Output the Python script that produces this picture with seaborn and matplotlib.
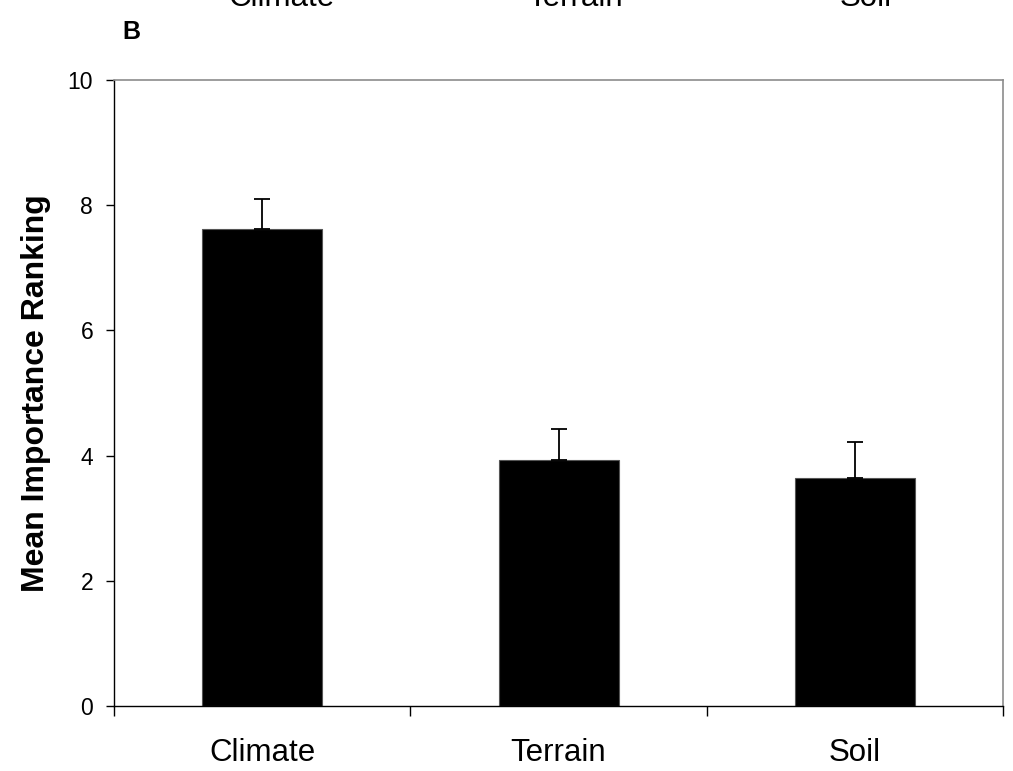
import matplotlib
matplotlib.use("Agg")
import matplotlib.pyplot as plt
import seaborn as sns
import numpy as np

# data
categories = ["Climate", "Terrain", "Soil"]
means = [7.62, 3.93, 3.65]
errs = [0.48, 0.50, 0.56]
yticks = [0, 2, 4, 6, 8, 10]

sns.set_style("white")
plt.rcParams['font.family'] = ['Liberation Sans', 'DejaVu Sans']
plt.rcParams['text.color'] = 'black'
plt.rcParams['axes.labelcolor'] = 'black'
plt.rcParams['xtick.color'] = 'black'
plt.rcParams['ytick.color'] = 'black'

fig = plt.figure(figsize=(10.13, 7.71), dpi=100)
ax = fig.add_axes([0.1125, 0.0843, 0.8777, 0.8119])

sns.barplot(x=categories, y=means, color="black", width=0.405,
            errorbar=None, saturation=1, ax=ax, edgecolor="#555555", linewidth=0.8)

pos = np.arange(len(categories))
ax.errorbar(pos, means, yerr=[np.zeros(len(errs)), errs], fmt="none",
            ecolor="black", elinewidth=1.3, capsize=5.5, capthick=1.3)

ax.set_xlim(-0.5, 2.5)
ax.set_ylim(0, 10)
ax.set_yticks(yticks)
ax.set_yticklabels([str(t) for t in yticks], fontsize=16.5)

# ticks at category boundaries, labels centred
ax.set_xticks([-0.5, 0.5, 1.5, 2.5])
ax.set_xticklabels([])
ax.set_xticks(pos, minor=True)
ax.set_xticklabels(categories, minor=True, fontsize=22.5)
ax.tick_params(axis="x", which="major", direction="out", length=7, width=1, bottom=True)
ax.tick_params(axis="x", which="minor", length=0, pad=23)
ax.tick_params(axis="y", direction="out", length=6, width=1, left=True, pad=9)

ax.set_xlabel("")
ax.set_ylabel("Mean Importance Ranking", fontsize=23, fontweight="bold", labelpad=12)

for s in ["left", "bottom"]:
    ax.spines[s].set_color("black")
    ax.spines[s].set_linewidth(1.0)
for s in ["top", "right"]:
    ax.spines[s].set_color("#8c8c8c")
    ax.spines[s].set_linewidth(1.2)

# panel letter and the cut-off labels of the panel above
fig.text(0.121, 0.959, "B", fontsize=18, fontweight="bold", va="center")
for lab, xc in zip(categories, [0.278, 0.568, 0.855]):
    fig.text(xc, 0.992, lab, fontsize=22.5, ha="center", va="baseline")

fig.savefig("out.png", dpi=100, facecolor="white")
